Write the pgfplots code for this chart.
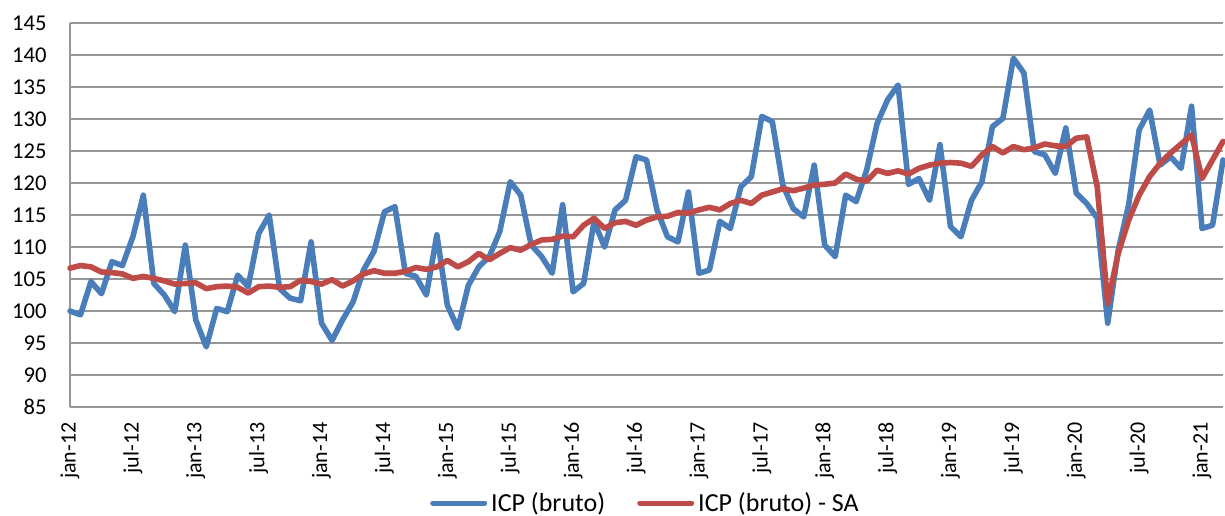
\documentclass[border=0pt]{standalone}
\usepackage{fontspec}
\setmainfont{Carlito}
\usepackage{pgfplots}
\pgfplotsset{compat=1.18}
\usepackage{pgfplotstable}
\definecolor{cblue}{RGB}{74,126,187}
\definecolor{cred}{RGB}{190,75,72}
\definecolor{cgrid}{RGB}{150,150,150}
\pgfplotstableread{
x y
0 100.0
1 99.4
2 104.6
3 102.7
4 107.7
5 107.1
6 111.6
7 118.1
8 104.3
9 102.5
10 99.9
11 110.3
12 98.6
13 94.4
14 100.4
15 99.9
16 105.6
17 103.8
18 112.1
19 115.0
20 103.5
21 102.0
22 101.6
23 110.8
24 98.1
25 95.4
26 98.6
27 101.4
28 106.4
29 109.3
30 115.5
31 116.3
32 105.9
33 105.4
34 102.5
35 111.9
36 100.9
37 97.3
38 104.0
39 106.9
40 108.5
41 112.4
42 120.2
43 118.1
44 110.3
45 108.5
46 105.9
47 116.6
48 103.0
49 104.3
50 114.0
51 110.0
52 115.8
53 117.3
54 124.1
55 123.6
56 115.8
57 111.6
58 110.8
59 118.6
60 105.9
61 106.4
62 114.0
63 112.9
64 119.4
65 121.0
66 130.4
67 129.6
68 119.7
69 116.0
70 114.7
71 122.8
72 110.3
73 108.5
74 118.1
75 117.1
76 122.0
77 129.3
78 133.0
79 135.3
80 119.8
81 120.7
82 117.3
83 126.0
84 113.2
85 111.6
86 117.3
87 120.2
88 128.8
89 130.1
90 139.5
91 137.2
92 124.9
93 124.4
94 121.5
95 128.6
96 118.4
97 116.8
98 114.5
99 98.1
100 109.5
101 116.6
102 128.3
103 131.4
104 122.8
105 124.1
106 122.3
107 132.0
108 112.9
109 113.4
110 123.6
}\bruto
\pgfplotstableread{
x y
0 106.7
1 107.1
2 106.9
3 106.1
4 106.0
5 105.8
6 105.1
7 105.4
8 105.1
9 104.7
10 104.2
11 104.3
12 104.4
13 103.5
14 103.8
15 103.9
16 103.7
17 102.8
18 103.8
19 103.9
20 103.7
21 103.8
22 104.8
23 104.6
24 104.2
25 104.9
26 103.9
27 104.7
28 105.8
29 106.3
30 105.9
31 105.9
32 106.2
33 106.8
34 106.5
35 106.9
36 107.9
37 106.9
38 107.7
39 109.0
40 108.0
41 109.0
42 109.9
43 109.5
44 110.4
45 111.1
46 111.2
47 111.7
48 111.6
49 113.4
50 114.5
51 112.9
52 113.8
53 114.0
54 113.4
55 114.2
56 114.7
57 114.8
58 115.4
59 115.3
60 115.8
61 116.2
62 115.8
63 116.8
64 117.3
65 116.8
66 118.1
67 118.6
68 119.1
69 118.8
70 119.2
71 119.7
72 119.8
73 120.0
74 121.4
75 120.6
76 120.3
77 122.0
78 121.5
79 121.9
80 121.4
81 122.3
82 122.8
83 123.1
84 123.2
85 123.1
86 122.6
87 124.4
88 125.7
89 124.7
90 125.7
91 125.2
92 125.5
93 126.1
94 125.8
95 125.7
96 127.0
97 127.2
98 119.4
99 101.2
100 109.0
101 114.2
102 118.1
103 121.0
104 123.1
105 124.7
106 126.1
107 127.5
108 120.7
109 123.6
110 126.5
}\sa
\begin{document}
\begin{tikzpicture}
\useasboundingbox (-35pt,-54pt) rectangle (577.5pt,203.5pt);
\begin{axis}[
  at={(0,0)}, anchor=south west,
  scale only axis,
  width=576.5pt, height=192pt,
  xmin=0, xmax=110,
  ymin=85, ymax=145,
  ytick={85,90,...,145},
  xtick={0,6,...,108},
  xticklabels={jan-12,jul-12,jan-13,jul-13,jan-14,jul-14,jan-15,jul-15,jan-16,jul-16,jan-17,jul-17,jan-18,jul-18,jan-19,jul-19,jan-20,jul-20,jan-21},
  major tick length=0pt,
  axis x line*=bottom,
  axis y line*=left,
  axis line style={cgrid, line width=1pt},
  ymajorgrids,
  grid style={cgrid, line width=1pt},
  /pgf/number format/assume math mode=true,
  yticklabel style={font=\fontsize{11.3}{13}\selectfont, anchor=east, inner sep=0pt, xshift=-11.5pt},
  xticklabel style={font=\fontsize{11}{13}\selectfont, rotate=90, anchor=east, inner ysep=0pt, inner xsep=7.5pt},
  legend style={at={(0.5,0)}, anchor=center, yshift=-48pt, draw=none, fill=none,
    font=\fontsize{13}{15}\selectfont, legend columns=-1,
    /tikz/every even column/.append style={column sep=14pt}},
  legend image code/.code={\draw[#1, line width=2.5pt, line cap=round] (0pt,0pt) -- (26pt,0pt);},
  clip=false,
]
\addplot[cblue, line width=2.8pt, line join=round, line cap=round] table[x=x,y=y] {\bruto};
\addlegendentry{ICP (bruto)}
\addplot[cred, line width=2.8pt, line join=round, line cap=round] table[x=x,y=y] {\sa};
\addlegendentry{ICP (bruto) - SA}
\end{axis}
\end{tikzpicture}
\end{document}
